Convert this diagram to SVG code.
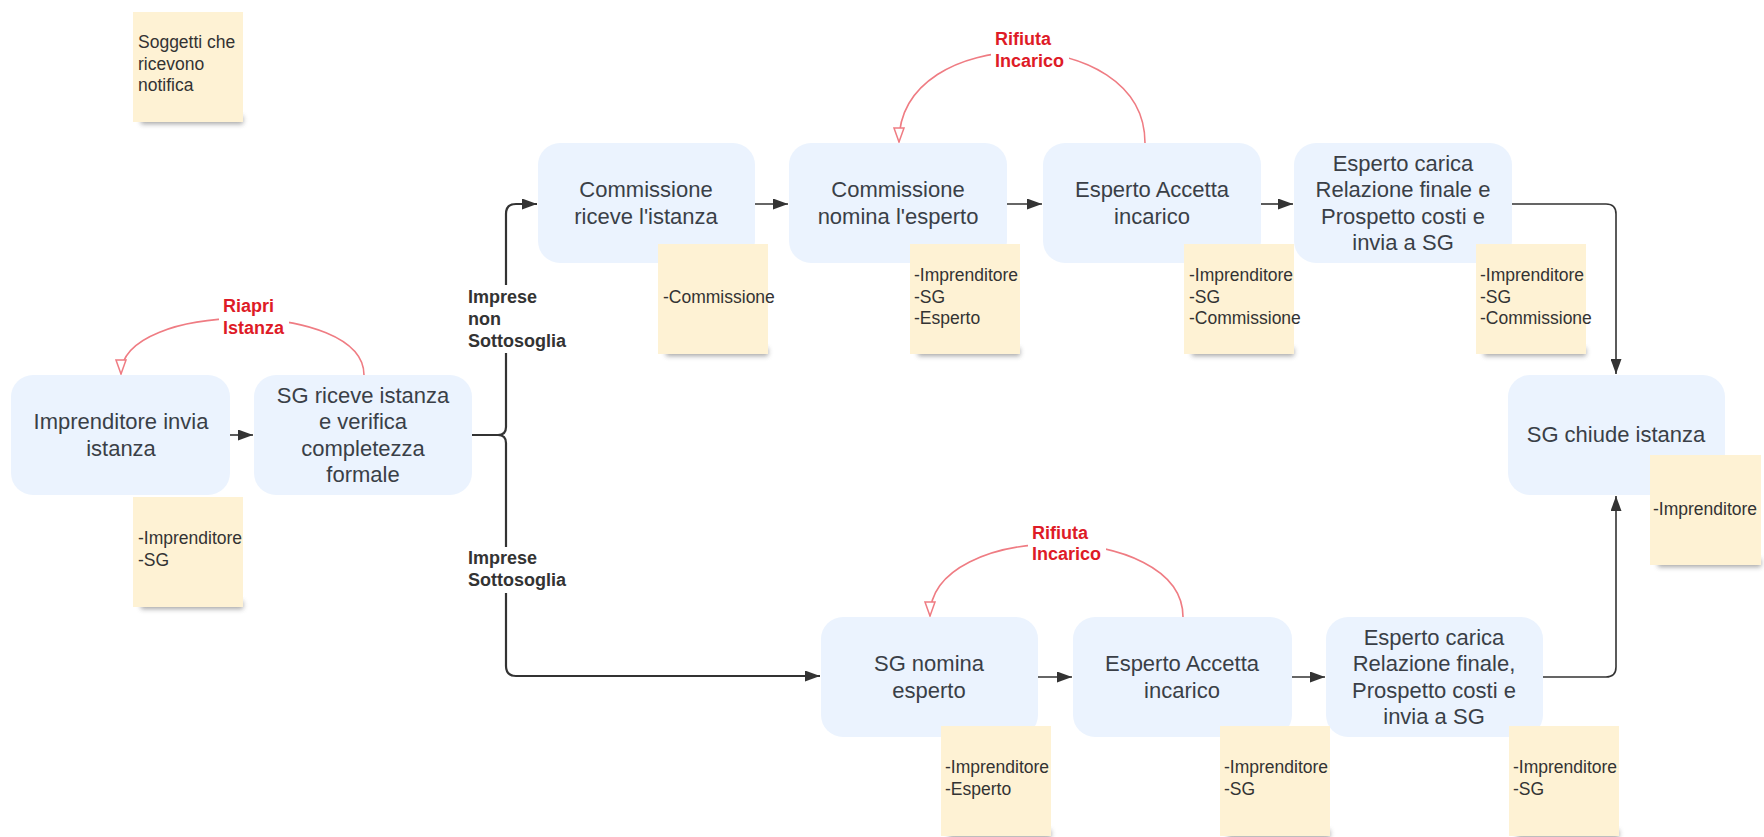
<svg xmlns="http://www.w3.org/2000/svg" width="1764" height="837" viewBox="0 0 1764 837">
<defs>
<style>
.node rect{fill:#ebf3fe;}
.nt{font-family:"Liberation Sans",Arial,sans-serif;font-size:22px;fill:#3a3f47;text-anchor:middle;}
.sticky .pad{fill:#fef2d4;}
.sticky .sh{fill:#6a6a6a;opacity:.6;filter:url(#blur);}
.st{font-family:"Liberation Sans",Arial,sans-serif;font-size:17.5px;fill:#333;}
.cn{fill:none;stroke:#333;stroke-width:1.6;}
.cn2{fill:none;stroke:#333;stroke-width:2.2;}
.rc{fill:none;stroke:#ef7c83;stroke-width:1.6;}
.rl{font-family:"Liberation Sans",Arial,sans-serif;font-size:18px;font-weight:bold;fill:#de1b27;}
.bl{font-family:"Liberation Sans",Arial,sans-serif;font-size:18px;font-weight:bold;fill:#333;}
.bg{fill:#fff;}
</style>
<filter id="blur" x="-20%" y="-100%" width="140%" height="300%"><feGaussianBlur stdDeviation="2.5"/></filter>
<marker id="ah" viewBox="0 0 15 11" refX="15" refY="5.5" markerWidth="15" markerHeight="11" markerUnits="userSpaceOnUse" orient="auto"><path d="M0,0 L15,5.5 L0,11 z" fill="#333"/></marker>
<marker id="ahr" viewBox="0 0 16 12" refX="15" refY="6" markerWidth="16" markerHeight="12" markerUnits="userSpaceOnUse" orient="auto"><path d="M1,1 L15,6 L1,11 z" fill="#fff" stroke="#ef7c83" stroke-width="1.5"/></marker>
</defs>

<g id="n1" class="node"><rect x="11" y="375" width="219" height="120" rx="22"/>
<text class="nt" x="121" y="429">Imprenditore invia</text><text class="nt" x="121" y="456">istanza</text></g>
<g id="n2" class="node"><rect x="254" y="375" width="218" height="120" rx="22"/>
<text class="nt" x="363" y="403">SG riceve istanza</text><text class="nt" x="363" y="429">e verifica</text><text class="nt" x="363" y="456">completezza</text><text class="nt" x="363" y="482">formale</text></g>
<g id="n3" class="node"><rect x="538" y="143" width="217" height="120" rx="22"/>
<text class="nt" x="646" y="197">Commissione</text><text class="nt" x="646" y="224">riceve l'istanza</text></g>
<g id="n4" class="node"><rect x="789" y="143" width="218" height="120" rx="22"/>
<text class="nt" x="898" y="197">Commissione</text><text class="nt" x="898" y="224">nomina l'esperto</text></g>
<g id="n5" class="node"><rect x="1043" y="143" width="218" height="120" rx="22"/>
<text class="nt" x="1152" y="197">Esperto Accetta</text><text class="nt" x="1152" y="224">incarico</text></g>
<g id="n6" class="node"><rect x="1294" y="143" width="218" height="120" rx="22"/>
<text class="nt" x="1403" y="171">Esperto carica</text><text class="nt" x="1403" y="197">Relazione finale e</text><text class="nt" x="1403" y="224">Prospetto costi e</text><text class="nt" x="1403" y="250">invia a SG</text></g>
<g id="n7" class="node"><rect x="1508" y="375" width="217" height="120" rx="22"/>
<text class="nt" x="1616" y="442">SG chiude istanza</text></g>
<g id="n8" class="node"><rect x="821" y="617" width="217" height="120" rx="22"/>
<text class="nt" x="929" y="671">SG nomina</text><text class="nt" x="929" y="698">esperto</text></g>
<g id="n9" class="node"><rect x="1073" y="617" width="219" height="120" rx="22"/>
<text class="nt" x="1182" y="671">Esperto Accetta</text><text class="nt" x="1182" y="698">incarico</text></g>
<g id="n10" class="node"><rect x="1326" y="617" width="217" height="120" rx="22"/>
<text class="nt" x="1434" y="645">Esperto carica</text><text class="nt" x="1434" y="671">Relazione finale,</text><text class="nt" x="1434" y="698">Prospetto costi e</text><text class="nt" x="1434" y="724">invia a SG</text></g>

<g id="connectors">
<path class="cn" d="M230,435 L253,435" marker-end="url(#ah)"/>
<path class="cn2" d="M472,435 L498,435 Q506,435 506,427 L506,214 Q506,204 516,204 L537,204" marker-end="url(#ah)"/>
<path class="cn2" d="M498,435 Q506,435 506,443 L506,666 Q506,676 516,676 L820,676" marker-end="url(#ah)"/>
<path class="cn" d="M755,204 L788,204" marker-end="url(#ah)"/>
<path class="cn" d="M1007,204 L1042,204" marker-end="url(#ah)"/>
<path class="cn" d="M1261,204 L1293,204" marker-end="url(#ah)"/>
<path class="cn" d="M1512,204 L1606,204 Q1616,204 1616,214 L1616,374" marker-end="url(#ah)"/>
<path class="cn" d="M1038,677 L1072,677" marker-end="url(#ah)"/>
<path class="cn" d="M1292,677 L1325,677" marker-end="url(#ah)"/>
<path class="cn" d="M1543,677 L1606,677 Q1616,677 1616,667 L1616,496" marker-end="url(#ah)"/>
<path class="rc" d="M364,375 C364,300 121,300 121,374" marker-end="url(#ahr)"/>
<path class="rc" d="M1145,143 C1145,22 899,22 899,142" marker-end="url(#ahr)"/>
<path class="rc" d="M1183,617 C1183,520 930,520 930,616" marker-end="url(#ahr)"/>
<rect class="bg" x="219" y="294" width="70" height="45"/>
<text class="rl" x="223" y="312">Riapri</text><text class="rl" x="223" y="334">Istanza</text>
<rect class="bg" x="991" y="27" width="78" height="45"/>
<text class="rl" x="995" y="45">Rifiuta</text><text class="rl" x="995" y="67">Incarico</text>
<rect class="bg" x="1028" y="521" width="78" height="45"/>
<text class="rl" x="1032" y="539">Rifiuta</text><text class="rl" x="1032" y="560">Incarico</text>
<rect class="bg" x="464" y="285" width="106" height="68"/>
<text class="bl" x="468" y="303">Imprese</text><text class="bl" x="468" y="325">non</text><text class="bl" x="468" y="347">Sottosoglia</text>
<rect class="bg" x="464" y="547" width="106" height="46"/>
<text class="bl" x="468" y="564">Imprese</text><text class="bl" x="468" y="586">Sottosoglia</text>
</g>

<g id="s0" class="sticky"><rect class="sh" x="141" y="116" width="102" height="8"/><rect class="pad" x="133" y="12" width="110" height="110"/>
<text class="st" x="138" y="48">Soggetti che</text><text class="st" x="138" y="69.5">ricevono</text><text class="st" x="138" y="91">notifica</text></g>
<g id="s1" class="sticky"><rect class="sh" x="141" y="601" width="102" height="8"/><rect class="pad" x="133" y="497" width="110" height="110"/>
<text class="st" x="138" y="544">-Imprenditore</text><text class="st" x="138" y="566">-SG</text></g>
<g id="s2" class="sticky"><rect class="sh" x="666" y="348" width="102" height="8"/><rect class="pad" x="658" y="244" width="110" height="110"/>
<text class="st" x="663" y="303">-Commissione</text></g>
<g id="s3" class="sticky"><rect class="sh" x="918" y="348" width="102" height="8"/><rect class="pad" x="910" y="244" width="110" height="110"/>
<text class="st" x="914" y="281">-Imprenditore</text><text class="st" x="914" y="303">-SG</text><text class="st" x="914" y="324">-Esperto</text></g>
<g id="s4" class="sticky"><rect class="sh" x="1192" y="348" width="102" height="8"/><rect class="pad" x="1184" y="244" width="110" height="110"/>
<text class="st" x="1189" y="281">-Imprenditore</text><text class="st" x="1189" y="303">-SG</text><text class="st" x="1189" y="324">-Commissione</text></g>
<g id="s5" class="sticky"><rect class="sh" x="1484" y="348" width="102" height="8"/><rect class="pad" x="1476" y="244" width="110" height="110"/>
<text class="st" x="1480" y="281">-Imprenditore</text><text class="st" x="1480" y="303">-SG</text><text class="st" x="1480" y="324">-Commissione</text></g>
<g id="s6" class="sticky"><rect class="sh" x="1658" y="559" width="103" height="8"/><rect class="pad" x="1650" y="455" width="111" height="110"/>
<text class="st" x="1653" y="515">-Imprenditore</text></g>
<g id="s7" class="sticky"><rect class="sh" x="949" y="830" width="102" height="8"/><rect class="pad" x="941" y="726" width="110" height="110"/>
<text class="st" x="945" y="773">-Imprenditore</text><text class="st" x="945" y="795">-Esperto</text></g>
<g id="s8" class="sticky"><rect class="sh" x="1228" y="830" width="102" height="8"/><rect class="pad" x="1220" y="726" width="110" height="110"/>
<text class="st" x="1224" y="773">-Imprenditore</text><text class="st" x="1224" y="795">-SG</text></g>
<g id="s9" class="sticky"><rect class="sh" x="1517" y="830" width="102" height="8"/><rect class="pad" x="1509" y="726" width="110" height="110"/>
<text class="st" x="1513" y="773">-Imprenditore</text><text class="st" x="1513" y="795">-SG</text></g>
</svg>
